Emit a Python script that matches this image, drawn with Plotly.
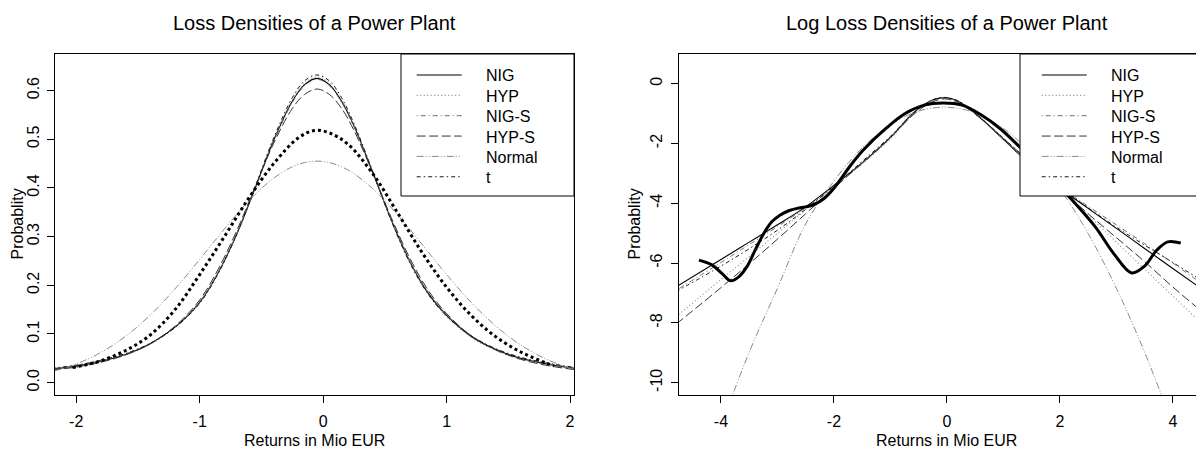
import plotly.graph_objects as go

# ---------------- Left panel: densities ----------------
x_fit = [-2.2, -2.0, -1.8, -1.6, -1.4, -1.2, -1.0, -0.85, -0.7, -0.55, -0.4, -0.25, -0.15, -0.05,
         0.05, 0.15, 0.25, 0.4, 0.55, 0.7, 0.85, 1.0, 1.2, 1.4, 1.6, 1.8, 2.0, 2.1]
dens_nig = [0.028, 0.034, 0.044, 0.058, 0.080, 0.114, 0.165, 0.226, 0.305, 0.400, 0.498, 0.578, 0.612, 0.625,
            0.612, 0.578, 0.527, 0.433, 0.335, 0.250, 0.184, 0.138, 0.095, 0.068, 0.050, 0.039, 0.031, 0.028]
dens_hyp = [0.027, 0.033, 0.043, 0.057, 0.079, 0.113, 0.165, 0.227, 0.307, 0.402, 0.500, 0.580, 0.615, 0.628,
            0.615, 0.580, 0.529, 0.434, 0.335, 0.249, 0.182, 0.136, 0.093, 0.066, 0.048, 0.037, 0.029, 0.026]
dens_nigs = [0.029, 0.035, 0.045, 0.059, 0.081, 0.115, 0.166, 0.226, 0.304, 0.398, 0.495, 0.575, 0.610, 0.623,
             0.610, 0.575, 0.525, 0.432, 0.336, 0.252, 0.186, 0.140, 0.097, 0.070, 0.052, 0.040, 0.032, 0.029]
dens_hyps = [0.026, 0.032, 0.042, 0.057, 0.080, 0.116, 0.170, 0.233, 0.312, 0.403, 0.492, 0.563, 0.592, 0.603,
             0.592, 0.563, 0.518, 0.432, 0.340, 0.257, 0.190, 0.142, 0.096, 0.067, 0.048, 0.036, 0.028, 0.025]
dens_norm = [0.0225, 0.0384, 0.0621, 0.0954, 0.139, 0.1926, 0.253, 0.300, 0.3457, 0.3868, 0.4201, 0.4433, 0.452, 0.455,
             0.452, 0.4433, 0.4292, 0.3989, 0.360, 0.3156, 0.2687, 0.2222, 0.1647, 0.116, 0.0775, 0.0491, 0.0296, 0.0225]
dens_t = [0.030, 0.036, 0.046, 0.060, 0.081, 0.113, 0.163, 0.224, 0.305, 0.403, 0.503, 0.585, 0.620, 0.632,
          0.620, 0.585, 0.532, 0.435, 0.334, 0.247, 0.182, 0.137, 0.096, 0.069, 0.052, 0.041, 0.033, 0.030]

x_kde = [-2.03, -1.9, -1.8, -1.6, -1.4, -1.2, -1.0, -0.8, -0.6, -0.4, -0.2, -0.07, 0.05, 0.2, 0.4, 0.6,
         0.8, 1.0, 1.2, 1.4, 1.6, 1.8, 1.87]
dens_kde = [0.031, 0.038, 0.045, 0.066, 0.098, 0.150, 0.222, 0.300, 0.380, 0.450, 0.503, 0.518, 0.513, 0.490,
            0.430, 0.350, 0.268, 0.196, 0.138, 0.094, 0.063, 0.041, 0.035]

# ---------------- Right panel: log densities ----------------
x_log = [-4.8, -4.0, -3.5, -3.0, -2.5, -2.0, -1.5, -1.0, -0.6, -0.3, -0.05, 0.2, 0.5, 1.0, 1.5,
         2.0, 2.5, 3.0, 3.5, 4.0, 4.5]
log_nig = [-6.80, -5.88, -5.30, -4.72, -4.12, -3.40, -2.65, -1.80, -0.99, -0.59, -0.47, -0.59, -0.99, -1.86, -2.75,
           -3.50, -4.17, -4.84, -5.51, -6.18, -6.85]
log_hyp = [-7.80, -6.55, -5.78, -5.00, -4.22, -3.45, -2.68, -1.85, -1.02, -0.58, -0.46, -0.58, -0.98, -1.84, -2.72,
           -3.55, -4.40, -5.30, -6.20, -7.10, -8.00]
log_nigs = [-6.92, -5.98, -5.38, -4.78, -4.15, -3.45, -2.68, -1.82, -1.00, -0.60, -0.48, -0.60, -1.00, -1.86, -2.72,
            -3.45, -4.10, -4.72, -5.35, -6.00, -6.67]
log_hyps = [-8.05, -6.82, -6.02, -5.20, -4.35, -3.50, -2.65, -1.80, -1.05, -0.65, -0.51, -0.63, -1.02, -1.83, -2.68,
            -3.52, -4.35, -5.15, -5.95, -6.80, -7.60]
log_norm = [-15.46, -11.45, -8.98, -6.84, -4.69, -3.26, -2.15, -1.37, -0.98, -0.83, -0.787, -0.83, -0.98, -1.50, -2.35,
            -3.52, -5.01, -6.84, -8.98, -11.45, -14.25]
log_t = [-6.96, -6.10, -5.52, -4.90, -4.20, -3.42, -2.60, -1.76, -1.00, -0.58, -0.46, -0.58, -1.00, -1.82, -2.68,
         -3.45, -4.15, -4.80, -5.40, -5.98, -6.57]

x_klog = [-4.39, -4.16, -3.98, -3.83, -3.68, -3.54, -3.39, -3.24, -3.10, -2.95, -2.80, -2.65, -2.50, -2.36, -2.18,
          -2.00, -1.89, -1.70, -1.48, -1.08, -0.74, -0.40, -0.07, 0.27, 0.61, 0.94, 1.28, 1.60, 1.90, 2.22,
          2.63, 2.96, 3.27, 3.50, 3.71, 3.91, 4.14]
log_kde = [-5.90, -6.06, -6.35, -6.59, -6.45, -6.12, -5.55, -5.00, -4.62, -4.39, -4.25, -4.17, -4.12, -4.05, -3.85,
           -3.50, -3.22, -2.72, -2.22, -1.50, -1.00, -0.72, -0.65, -0.72, -1.05, -1.50, -2.10, -2.70, -3.25, -3.90,
           -4.80, -5.70, -6.33, -6.10, -5.58, -5.29, -5.33]

labels = ["NIG", "HYP", "NIG-S", "HYP-S", "Normal", "t"]
x_ticks_left = [-2, -1, 0, 1, 2]
x_ticktext_left = ["-2", "-1", "0", "1", "2"]
y_ticks_left = [0.0, 0.1, 0.2, 0.3, 0.4, 0.5, 0.6]
y_ticktext_left = ["0.0", "0.1", "0.2", "0.3", "0.4", "0.5", "0.6"]
x_ticks_right = [-4, -2, 0, 2, 4]
x_ticktext_right = ["-4", "-2", "0", "2", "4"]
y_ticks_right = [0, -2, -4, -6, -8, -10]
y_ticktext_right = ["0", "-2", "-4", "-6", "-8", "-10"]

# ---------------- Styles ----------------
styles = [
    dict(color="#000000", dash="solid", width=1.1),
    dict(color="#8a8a8a", dash="1px,2.5px", width=1.1),
    dict(color="#6e6e6e", dash="1px,3px,5px,3px", width=1.0),
    dict(color="#333333", dash="9px,3.5px", width=1.0),
    dict(color="#8a8a8a", dash="7px,2px,1px,2px,1px,2px", width=1.0),
    dict(color="#1a1a1a", dash="4px,3px,1.5px,3px", width=1.0),
]

W, H = 1196, 451
FONT = "Liberation Sans, Arial, Helvetica, sans-serif"

# pixel geometry of the two plot boxes
L_left, L_right = 54.5, 574
R_left, R_right = 679, 1196
B_top, B_bot = 54, 395


def px(x):
    return x / W


def py(y):
    return 1 - y / H


fig = go.Figure()

left_series = [dens_nig, dens_hyp, dens_nigs, dens_hyps, dens_norm, dens_t]
right_series = [log_nig, log_hyp, log_nigs, log_hyps, log_norm, log_t]

for lab, st, ys in zip(labels, styles, left_series):
    fig.add_trace(go.Scatter(x=x_fit, y=ys, mode="lines", name=lab, showlegend=False,
                             line=dict(color=st["color"], dash=st["dash"], width=st["width"], shape="spline"),
                             xaxis="x", yaxis="y", hoverinfo="skip"))
fig.add_trace(go.Scatter(x=x_kde, y=dens_kde, mode="lines", name="kernel", showlegend=False,
                         line=dict(color="#000000", dash="dot", width=3, shape="spline"),
                         xaxis="x", yaxis="y", hoverinfo="skip"))

for lab, st, ys in zip(labels, styles, right_series):
    fig.add_trace(go.Scatter(x=x_log, y=ys, mode="lines", name=lab, showlegend=False,
                             line=dict(color=st["color"], dash=st["dash"], width=st["width"], shape="spline"),
                             xaxis="x2", yaxis="y2", hoverinfo="skip"))
fig.add_trace(go.Scatter(x=x_klog, y=log_kde, mode="lines", name="kernel", showlegend=False,
                         line=dict(color="#000000", width=3, shape="spline"),
                         xaxis="x2", yaxis="y2", hoverinfo="skip"))

axis_common = dict(showgrid=False, zeroline=False, showline=True, linecolor="black", linewidth=1,
                   ticks="outside", ticklen=7, tickwidth=1, tickcolor="black",
                   tickfont=dict(family=FONT, size=16, color="black"))

fig.update_layout(
    width=W, height=H,
    margin=dict(l=0, r=0, t=0, b=0),
    paper_bgcolor="white", plot_bgcolor="white",
    showlegend=False,
    font=dict(family=FONT),
    xaxis=dict(domain=[px(L_left), px(L_right)], range=[-2.176, 2.032], tickvals=x_ticks_left,
               ticktext=x_ticktext_left, mirror=True, anchor="y", ticklabelstandoff=5, **axis_common),
    yaxis=dict(domain=[py(B_bot), py(B_top)], range=[-0.0253, 0.675], tickvals=y_ticks_left,
               ticktext=y_ticktext_left, tickangle=-90, mirror=True, anchor="x", ticklabelstandoff=1,
               **axis_common),
    xaxis2=dict(domain=[px(R_left), 1.0], range=[-4.743, 4.41], tickvals=x_ticks_right,
                ticktext=x_ticktext_right, mirror=True, anchor="y2", ticklabelstandoff=5, **axis_common),
    yaxis2=dict(domain=[py(B_bot), py(B_top)], range=[-10.41, 0.99], tickvals=y_ticks_right,
                ticktext=y_ticktext_right, tickangle=-90, mirror=False, anchor="x2", ticklabelstandoff=3,
                **axis_common),
)

shapes = []
annotations = []

# titles and axis titles
for cx, title, ylab_x in [((L_left + L_right) / 2, "Loss Densities of a Power Plant", 17),
                          (946.7, "Log Loss Densities of a Power Plant", 634)]:
    annotations.append(dict(x=px(cx), y=py(23), xref="paper", yref="paper", text=title, showarrow=False,
                            xanchor="center", yanchor="middle", font=dict(family=FONT, size=20, color="black")))
    annotations.append(dict(x=px(cx), y=py(440), xref="paper", yref="paper", text="Returns in Mio EUR",
                            showarrow=False, xanchor="center", yanchor="middle",
                            font=dict(family=FONT, size=16, color="black")))
    annotations.append(dict(x=px(ylab_x), y=py((B_top + B_bot) / 2), xref="paper", yref="paper", text="Probablity",
                            showarrow=False, xanchor="center", yanchor="middle", textangle=-90,
                            font=dict(family=FONT, size=16, color="black")))

# legends (drawn as boxes with line samples)
for bx0, bx1, sx0, sx1, tx in [(401, 574, 416.7, 461.7, 484), (1020, 1210, 1041.7, 1086.7, 1109)]:
    shapes.append(dict(type="rect", xref="paper", yref="paper", x0=px(bx0), x1=px(bx1), y0=py(196), y1=py(B_top),
                       line=dict(color="black", width=1), fillcolor="white", layer="above"))
    for i, (lab, st) in enumerate(zip(labels, styles)):
        yy = 75 + i * 20.35
        shapes.append(dict(type="line", xref="paper", yref="paper", x0=px(sx0), x1=px(sx1), y0=py(yy), y1=py(yy),
                           line=dict(color=st["color"], dash=st["dash"], width=st["width"]), layer="above"))
        annotations.append(dict(x=px(tx), y=py(yy + 1), xref="paper", yref="paper", text=lab, showarrow=False,
                                xanchor="left", yanchor="middle", font=dict(family=FONT, size=16, color="black")))

fig.update_layout(shapes=shapes, annotations=annotations)

fig.write_html("out.html")
